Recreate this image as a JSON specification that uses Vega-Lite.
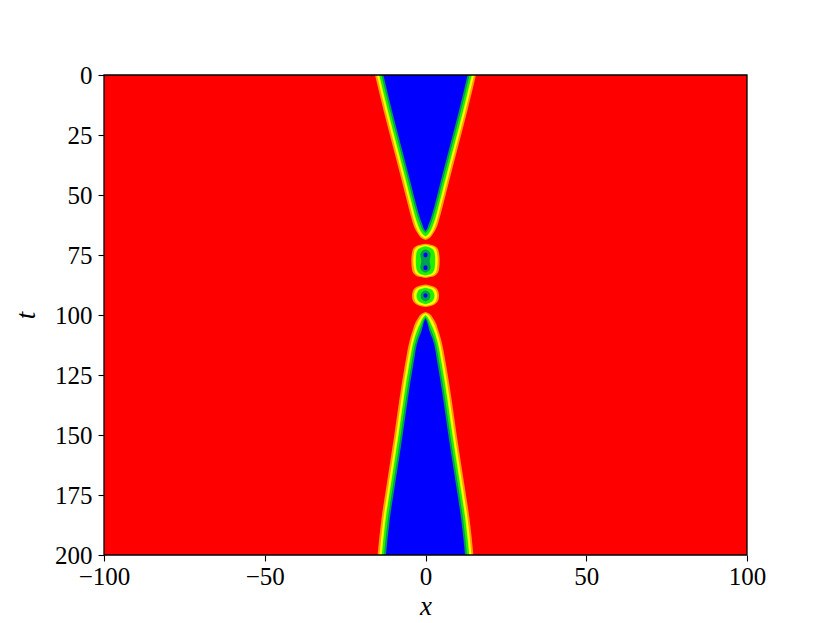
{
  "$schema": "https://vega.github.io/schema/vega-lite/v6.json",
  "autosize": {"type": "none"},
  "width": 643,
  "height": 480,
  "padding": {"left": 104, "top": 75, "right": 83, "bottom": 68},
  "background": "white",
  "config": {
    "view": {"stroke": null},
    "axis": {
      "grid": false,
      "domain": false,
      "labelFlush": false,
      "labelOverlap": false,
      "tickColor": "black",
      "tickSize": 6,
      "tickWidth": 1.1,
      "labelColor": "black",
      "labelFont": "Liberation Serif",
      "labelFontSize": 25,
      "titleColor": "black",
      "titleFont": "Liberation Serif",
      "titleFontSize": 27,
      "titleFontStyle": "italic",
      "titleFontWeight": "normal"
    }
  },
  "datasets": {
    "bg": [{"k": 0, "a": -100, "b": 100, "t": 0, "t2": 200}],
    "sh": [
      {"s":"T","k":1,"t":0,"a":-15.7,"b":15.7},{"s":"T","k":1,"t":15,"a":-13.0,"b":13.0},{"s":"T","k":1,"t":30,"a":-10.1,"b":10.1},{"s":"T","k":1,"t":45,"a":-7.2,"b":7.2},{"s":"T","k":1,"t":55,"a":-5.3,"b":5.3},{"s":"T","k":1,"t":60,"a":-4.3,"b":4.3},{"s":"T","k":1,"t":64,"a":-3.3,"b":3.3},{"s":"T","k":1,"t":66.5,"a":-2.2,"b":2.2},{"s":"T","k":1,"t":68,"a":-1.2,"b":1.2},{"s":"T","k":1,"t":68.8,"a":0,"b":0},
      {"s":"T","k":2,"t":0,"a":-15.1,"b":15.1},{"s":"T","k":2,"t":15,"a":-12.4,"b":12.4},{"s":"T","k":2,"t":30,"a":-9.5,"b":9.5},{"s":"T","k":2,"t":45,"a":-6.6,"b":6.6},{"s":"T","k":2,"t":55,"a":-4.7,"b":4.7},{"s":"T","k":2,"t":60,"a":-3.7,"b":3.7},{"s":"T","k":2,"t":64,"a":-2.7,"b":2.7},{"s":"T","k":2,"t":66,"a":-1.9,"b":1.9},{"s":"T","k":2,"t":67.5,"a":-0.9,"b":0.9},{"s":"T","k":2,"t":68.2,"a":0,"b":0},
      {"s":"T","k":3,"t":0,"a":-14.4,"b":14.4},{"s":"T","k":3,"t":15,"a":-11.7,"b":11.7},{"s":"T","k":3,"t":30,"a":-8.8,"b":8.8},{"s":"T","k":3,"t":45,"a":-5.9,"b":5.9},{"s":"T","k":3,"t":55,"a":-4.0,"b":4.0},{"s":"T","k":3,"t":60,"a":-3.0,"b":3.0},{"s":"T","k":3,"t":63,"a":-2.2,"b":2.2},{"s":"T","k":3,"t":65.5,"a":-1.3,"b":1.3},{"s":"T","k":3,"t":66.8,"a":-0.5,"b":0.5},{"s":"T","k":3,"t":67.3,"a":0,"b":0},
      {"s":"T","k":4,"t":0,"a":-13.7,"b":13.7},{"s":"T","k":4,"t":15,"a":-11.0,"b":11.0},{"s":"T","k":4,"t":30,"a":-8.1,"b":8.1},{"s":"T","k":4,"t":45,"a":-5.2,"b":5.2},{"s":"T","k":4,"t":55,"a":-3.3,"b":3.3},{"s":"T","k":4,"t":60,"a":-2.2,"b":2.2},{"s":"T","k":4,"t":63,"a":-1.4,"b":1.4},{"s":"T","k":4,"t":65,"a":-0.6,"b":0.6},{"s":"T","k":4,"t":65.8,"a":0,"b":0},
      {"s":"T","k":5,"t":0,"a":-13.1,"b":13.1},{"s":"T","k":5,"t":15,"a":-10.4,"b":10.4},{"s":"T","k":5,"t":30,"a":-7.5,"b":7.5},{"s":"T","k":5,"t":45,"a":-4.6,"b":4.6},{"s":"T","k":5,"t":55,"a":-2.7,"b":2.7},{"s":"T","k":5,"t":60,"a":-1.6,"b":1.6},{"s":"T","k":5,"t":62.5,"a":-0.9,"b":0.9},{"s":"T","k":5,"t":64.5,"a":-0.3,"b":0.3},{"s":"T","k":5,"t":65,"a":0,"b":0},

      {"s":"P","k":1,"t":70.3,"a":0,"b":0},{"s":"P","k":1,"t":70.8,"a":-2.0,"b":2.0},{"s":"P","k":1,"t":71.7,"a":-3.3,"b":3.3},{"s":"P","k":1,"t":73,"a":-4.0,"b":4.0},{"s":"P","k":1,"t":75,"a":-4.3,"b":4.3},{"s":"P","k":1,"t":77.3,"a":-4.4,"b":4.4},{"s":"P","k":1,"t":80,"a":-4.3,"b":4.3},{"s":"P","k":1,"t":82,"a":-4.0,"b":4.0},{"s":"P","k":1,"t":83.3,"a":-3.2,"b":3.2},{"s":"P","k":1,"t":84.1,"a":-2.0,"b":2.0},{"s":"P","k":1,"t":84.6,"a":0,"b":0},
      {"s":"P","k":2,"t":70.8,"a":0,"b":0},{"s":"P","k":2,"t":71.3,"a":-1.8,"b":1.8},{"s":"P","k":2,"t":72.2,"a":-3.0,"b":3.0},{"s":"P","k":2,"t":73.5,"a":-3.5,"b":3.5},{"s":"P","k":2,"t":77.3,"a":-3.8,"b":3.8},{"s":"P","k":2,"t":81,"a":-3.5,"b":3.5},{"s":"P","k":2,"t":82.6,"a":-3.0,"b":3.0},{"s":"P","k":2,"t":83.6,"a":-1.8,"b":1.8},{"s":"P","k":2,"t":84.1,"a":0,"b":0},
      {"s":"P","k":3,"t":71.4,"a":0,"b":0},{"s":"P","k":3,"t":72,"a":-1.5,"b":1.5},{"s":"P","k":3,"t":73.1,"a":-2.5,"b":2.5},{"s":"P","k":3,"t":74.7,"a":-2.9,"b":2.9},{"s":"P","k":3,"t":77.3,"a":-3.0,"b":3.0},{"s":"P","k":3,"t":80,"a":-2.9,"b":2.9},{"s":"P","k":3,"t":81.8,"a":-2.5,"b":2.5},{"s":"P","k":3,"t":83,"a":-1.5,"b":1.5},{"s":"P","k":3,"t":83.5,"a":0,"b":0},
      {"s":"P","k":4,"t":72.6,"a":0,"b":0},{"s":"P","k":4,"t":73.3,"a":-1.0,"b":1.0},{"s":"P","k":4,"t":74.8,"a":-1.6,"b":1.6},{"s":"P","k":4,"t":77.6,"a":-1.3,"b":1.3},{"s":"P","k":4,"t":80.2,"a":-1.6,"b":1.6},{"s":"P","k":4,"t":81.7,"a":-1.0,"b":1.0},{"s":"P","k":4,"t":82.4,"a":0,"b":0},
      {"s":"D1","k":5,"t":74,"a":0,"b":0},{"s":"D1","k":5,"t":74.5,"a":-0.6,"b":0.6},{"s":"D1","k":5,"t":75.5,"a":-0.6,"b":0.6},{"s":"D1","k":5,"t":76,"a":0,"b":0},
      {"s":"D2","k":5,"t":79.3,"a":0,"b":0},{"s":"D2","k":5,"t":79.8,"a":-0.6,"b":0.6},{"s":"D2","k":5,"t":80.8,"a":-0.6,"b":0.6},{"s":"D2","k":5,"t":81.3,"a":0,"b":0},

      {"s":"Q","k":1,"t":87.3,"a":0,"b":0},{"s":"Q","k":1,"t":87.9,"a":-2.0,"b":2.0},{"s":"Q","k":1,"t":88.8,"a":-3.3,"b":3.3},{"s":"Q","k":1,"t":90.3,"a":-4.0,"b":4.0},{"s":"Q","k":1,"t":92,"a":-4.2,"b":4.2},{"s":"Q","k":1,"t":93.8,"a":-4.0,"b":4.0},{"s":"Q","k":1,"t":95.2,"a":-3.2,"b":3.2},{"s":"Q","k":1,"t":96.1,"a":-2.0,"b":2.0},{"s":"Q","k":1,"t":96.7,"a":0,"b":0},
      {"s":"Q","k":2,"t":87.9,"a":0,"b":0},{"s":"Q","k":2,"t":88.4,"a":-1.8,"b":1.8},{"s":"Q","k":2,"t":89.3,"a":-2.9,"b":2.9},{"s":"Q","k":2,"t":90.8,"a":-3.5,"b":3.5},{"s":"Q","k":2,"t":92,"a":-3.6,"b":3.6},{"s":"Q","k":2,"t":93.5,"a":-3.4,"b":3.4},{"s":"Q","k":2,"t":94.9,"a":-2.8,"b":2.8},{"s":"Q","k":2,"t":95.7,"a":-1.7,"b":1.7},{"s":"Q","k":2,"t":96.2,"a":0,"b":0},
      {"s":"Q","k":3,"t":88.6,"a":0,"b":0},{"s":"Q","k":3,"t":89.2,"a":-1.5,"b":1.5},{"s":"Q","k":3,"t":90.2,"a":-2.4,"b":2.4},{"s":"Q","k":3,"t":92,"a":-2.8,"b":2.8},{"s":"Q","k":3,"t":93.8,"a":-2.4,"b":2.4},{"s":"Q","k":3,"t":94.9,"a":-1.4,"b":1.4},{"s":"Q","k":3,"t":95.5,"a":0,"b":0},
      {"s":"Q","k":4,"t":89.7,"a":0,"b":0},{"s":"Q","k":4,"t":90.4,"a":-1.0,"b":1.0},{"s":"Q","k":4,"t":91.6,"a":-1.5,"b":1.5},{"s":"Q","k":4,"t":92.8,"a":-1.4,"b":1.4},{"s":"Q","k":4,"t":93.8,"a":-0.9,"b":0.9},{"s":"Q","k":4,"t":94.4,"a":0,"b":0},
      {"s":"D3","k":5,"t":90.9,"a":0,"b":0},{"s":"D3","k":5,"t":91.4,"a":-0.6,"b":0.6},{"s":"D3","k":5,"t":92.3,"a":-0.6,"b":0.6},{"s":"D3","k":5,"t":92.8,"a":0,"b":0},

      {"s":"B","k":1,"t":98.8,"a":0,"b":0},{"s":"B","k":1,"t":99.5,"a":-1.2,"b":1.2},{"s":"B","k":1,"t":101,"a":-2.2,"b":2.2},{"s":"B","k":1,"t":103,"a":-3.1,"b":3.1},{"s":"B","k":1,"t":106,"a":-3.9,"b":3.9},{"s":"B","k":1,"t":110,"a":-4.8,"b":4.8},{"s":"B","k":1,"t":120,"a":-6.3,"b":6.3},{"s":"B","k":1,"t":135,"a":-8.1,"b":8.1},{"s":"B","k":1,"t":150,"a":-9.7,"b":9.7},{"s":"B","k":1,"t":170,"a":-12.0,"b":12.0},{"s":"B","k":1,"t":185,"a":-13.7,"b":13.7},{"s":"B","k":1,"t":200,"a":-14.9,"b":14.9},
      {"s":"B","k":2,"t":99.3,"a":0,"b":0},{"s":"B","k":2,"t":100,"a":-0.9,"b":0.9},{"s":"B","k":2,"t":101.5,"a":-1.7,"b":1.7},{"s":"B","k":2,"t":103,"a":-2.4,"b":2.4},{"s":"B","k":2,"t":106,"a":-3.3,"b":3.3},{"s":"B","k":2,"t":110,"a":-4.2,"b":4.2},{"s":"B","k":2,"t":120,"a":-5.7,"b":5.7},{"s":"B","k":2,"t":135,"a":-7.5,"b":7.5},{"s":"B","k":2,"t":150,"a":-9.1,"b":9.1},{"s":"B","k":2,"t":170,"a":-11.4,"b":11.4},{"s":"B","k":2,"t":185,"a":-13.1,"b":13.1},{"s":"B","k":2,"t":200,"a":-14.3,"b":14.3},
      {"s":"B","k":3,"t":100,"a":0,"b":0},{"s":"B","k":3,"t":101,"a":-0.7,"b":0.7},{"s":"B","k":3,"t":102.5,"a":-1.3,"b":1.3},{"s":"B","k":3,"t":104,"a":-1.8,"b":1.8},{"s":"B","k":3,"t":106,"a":-2.5,"b":2.5},{"s":"B","k":3,"t":110,"a":-3.5,"b":3.5},{"s":"B","k":3,"t":120,"a":-5.0,"b":5.0},{"s":"B","k":3,"t":135,"a":-6.8,"b":6.8},{"s":"B","k":3,"t":150,"a":-8.4,"b":8.4},{"s":"B","k":3,"t":170,"a":-10.7,"b":10.7},{"s":"B","k":3,"t":185,"a":-12.4,"b":12.4},{"s":"B","k":3,"t":200,"a":-13.6,"b":13.6},
      {"s":"B","k":4,"t":100.8,"a":0,"b":0},{"s":"B","k":4,"t":102,"a":-0.6,"b":0.6},{"s":"B","k":4,"t":104,"a":-1.1,"b":1.1},{"s":"B","k":4,"t":106,"a":-1.7,"b":1.7},{"s":"B","k":4,"t":110,"a":-2.8,"b":2.8},{"s":"B","k":4,"t":120,"a":-4.3,"b":4.3},{"s":"B","k":4,"t":135,"a":-6.1,"b":6.1},{"s":"B","k":4,"t":150,"a":-7.7,"b":7.7},{"s":"B","k":4,"t":170,"a":-10.0,"b":10.0},{"s":"B","k":4,"t":185,"a":-11.7,"b":11.7},{"s":"B","k":4,"t":200,"a":-12.9,"b":12.9},
      {"s":"B","k":5,"t":101.5,"a":0,"b":0},{"s":"B","k":5,"t":103,"a":-0.5,"b":0.5},{"s":"B","k":5,"t":105,"a":-0.9,"b":0.9},{"s":"B","k":5,"t":107,"a":-1.3,"b":1.3},{"s":"B","k":5,"t":110,"a":-2.2,"b":2.2},{"s":"B","k":5,"t":120,"a":-3.7,"b":3.7},{"s":"B","k":5,"t":135,"a":-5.5,"b":5.5},{"s":"B","k":5,"t":150,"a":-7.1,"b":7.1},{"s":"B","k":5,"t":170,"a":-9.4,"b":9.4},{"s":"B","k":5,"t":185,"a":-11.1,"b":11.1},{"s":"B","k":5,"t":200,"a":-12.3,"b":12.3}
    ]
  },
  "encoding": {
    "x": {"field": "a", "type": "quantitative", "scale": {"domain": [-100, 100], "nice": false, "zero": false},
          "axis": {"values": [-100, -50, 0, 50, 100], "title": "x", "titlePadding": 4, "labelPadding": 3}},
    "x2": {"field": "b"},
    "y": {"field": "t", "type": "quantitative", "scale": {"domain": [0, 200], "reverse": true, "nice": false, "zero": false},
          "axis": {"values": [0, 25, 50, 75, 100, 125, 150, 175, 200], "title": "t", "titlePadding": 14, "titleAngle": -90, "labelPadding": 6}},
    "color": {"field": "k", "type": "ordinal", "legend": null,
              "scale": {"domain": [0, 1, 2, 3, 4, 5], "range": ["#ff0000", "#ffa000", "#f4ff00", "#20f000", "#00a050", "#0000ff"]}}
  },
  "layer": [
    {"data": {"name": "bg"}, "mark": {"type": "rect"}, "encoding": {"y2": {"field": "t2"}}},
    {"data": {"name": "sh"}, "transform": [{"filter": "datum.k == 1"}], "mark": {"type": "area", "orient": "horizontal", "interpolate": "monotone", "clip": true}, "encoding": {"detail": {"field": "s"}}},
    {"data": {"name": "sh"}, "transform": [{"filter": "datum.k == 2"}], "mark": {"type": "area", "orient": "horizontal", "interpolate": "monotone", "clip": true}, "encoding": {"detail": {"field": "s"}}},
    {"data": {"name": "sh"}, "transform": [{"filter": "datum.k == 3"}], "mark": {"type": "area", "orient": "horizontal", "interpolate": "monotone", "clip": true}, "encoding": {"detail": {"field": "s"}}},
    {"data": {"name": "sh"}, "transform": [{"filter": "datum.k == 4"}], "mark": {"type": "area", "orient": "horizontal", "interpolate": "monotone", "clip": true}, "encoding": {"detail": {"field": "s"}}},
    {"data": {"name": "sh"}, "transform": [{"filter": "datum.k == 5"}], "mark": {"type": "area", "orient": "horizontal", "interpolate": "monotone", "clip": true}, "encoding": {"detail": {"field": "s"}}},
    {"data": {"name": "bg"}, "mark": {"type": "rect", "filled": false, "strokeWidth": 1.3}, "encoding": {"y2": {"field": "t2"}, "color": {"value": "black"}}}
  ]
}
